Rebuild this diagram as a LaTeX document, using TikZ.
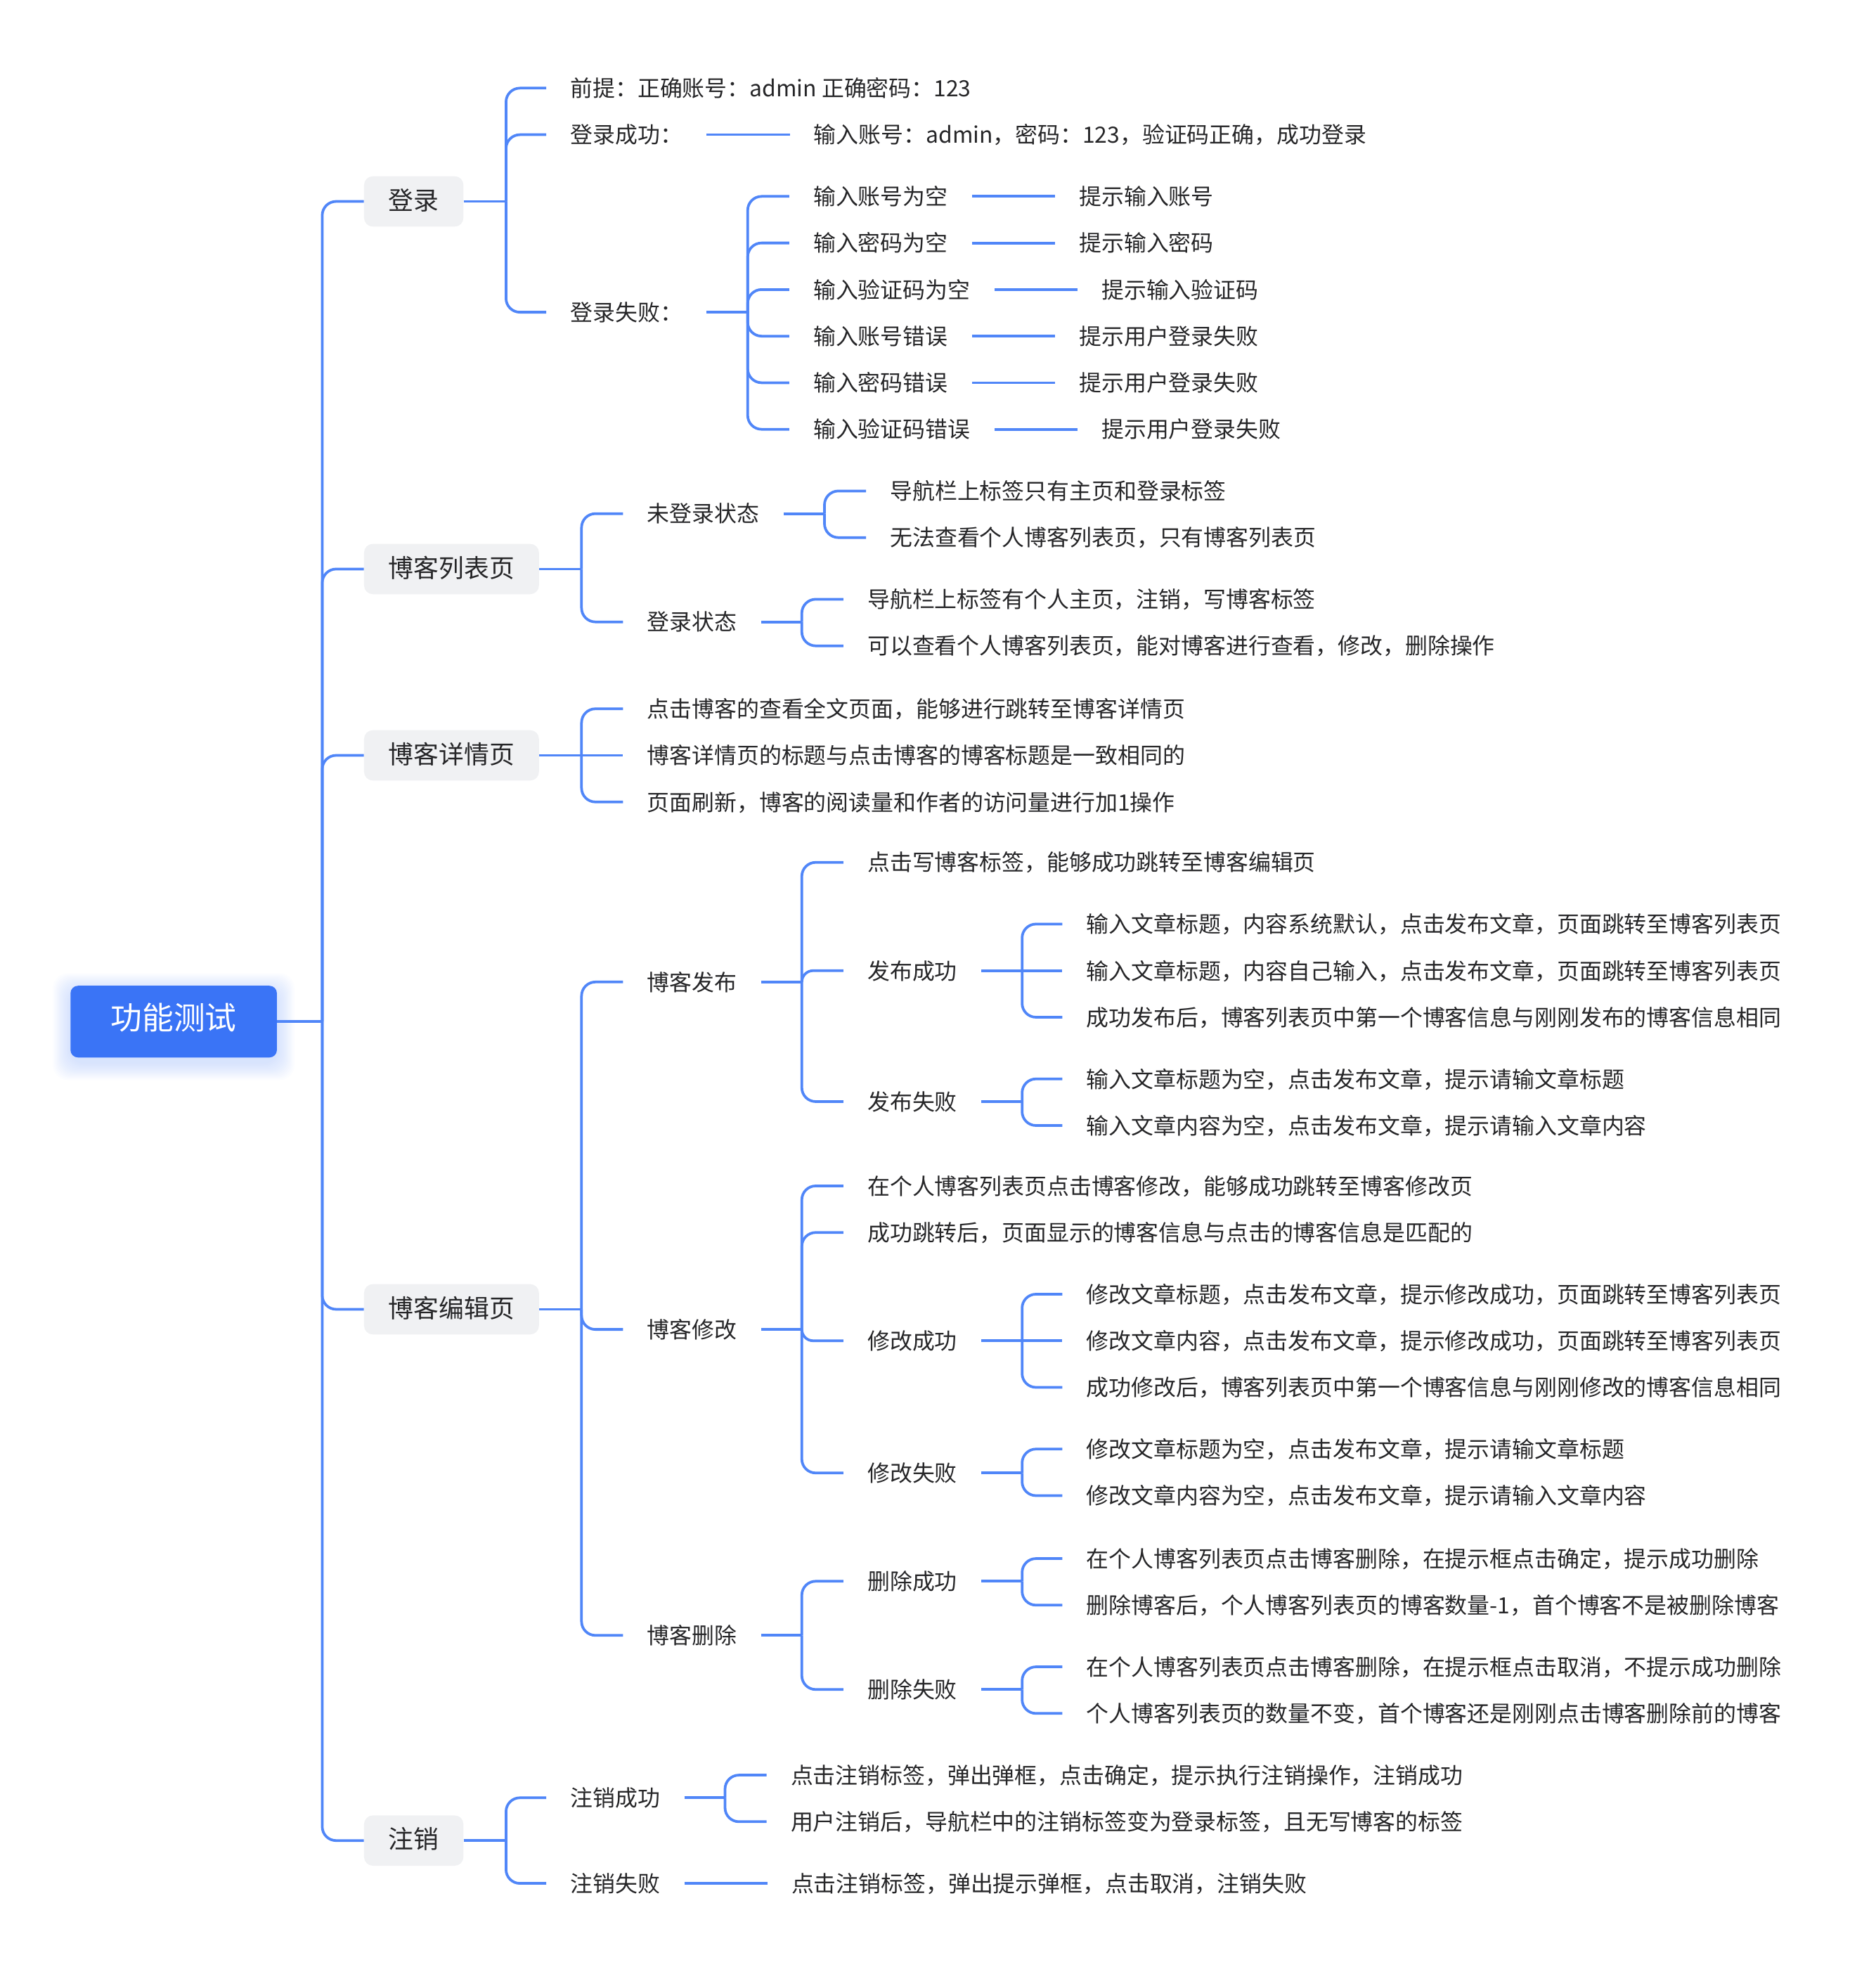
\documentclass[tikz,border=0pt]{standalone}
\usepackage{fontspec}
\setmainfont{Noto Sans CJK SC}
\usetikzlibrary{calc}
\definecolor{lineblue}{RGB}{80,134,248}
\definecolor{rootblue}{RGB}{58,116,246}
\definecolor{boxgray}{RGB}{240,241,243}
\definecolor{txtgray}{RGB}{38,38,40}
\newcommand\lnk[2]{\draw[conn] let \p1=(#1), \p2=(#2.west), \n1={min(11pt,abs(\y2-\y1))} in [rounded corners=\n1] (\p1) |- (\p2);}
\begin{document}
\begin{tikzpicture}[x=1pt,y=-1pt,
  conn/.style={draw=lineblue,line width=2.1pt},
  rootbox/.style={fill=rootblue,text=white,rounded corners=6pt,minimum width=164pt,minimum height=57pt,inner sep=0pt,font=\fontsize{25}{29}\selectfont,text height=1.3em,text depth=0.06em},
  lvl/.style={fill=boxgray,text=txtgray,rounded corners=7pt,anchor=west,inner xsep=19.5pt,inner ysep=0pt,minimum height=40pt,font=\fontsize{20}{24}\selectfont,text height=1.36em,text depth=0.06em},
  txt/.style={anchor=west,text=txtgray,inner xsep=19pt,inner ysep=0pt,font=\fontsize{17.8}{22}\selectfont,text height=1.42em,text depth=0.05em},
]
\useasboundingbox (0,0) rectangle (1490,1568);
% glow of root
\foreach \i in {1,...,14}{
  \fill[rootblue,opacity=0.014,rounded corners=12pt] (56-\i,783-\i+4) rectangle (220+\i,840+\i+4);
}
\node[rootbox] (root) at (138,811.5) {功能测试};
\coordinate (j0) at (256,811.5);
\draw[conn] (root.east) -- (j0);

% level 1
\node[lvl] (login) at (289,160) {登录};
\node[lvl] (list) at (289,452) {博客列表页};
\node[lvl] (detail) at (289,600) {博客详情页};
\node[lvl] (edit) at (289,1040) {博客编辑页};
\node[lvl] (logout) at (289,1462) {注销};
\foreach \q in {login,list,detail,edit,logout}{\lnk{j0}{\q}}

% ---- 登录
\coordinate (j1) at (402,160);
\draw[conn] (login.east) -- (j1);
\node[txt] (pre) at (434,70) {前提：正确账号：admin 正确密码：123};
\node[txt] (lsucc) at (434,107) {登录成功：};
\node[txt] (lfail) at (434,248) {登录失败：};
\foreach \q in {pre,lsucc,lfail}{\lnk{j1}{\q}}
\node[txt] (lsuccA) at ([xshift=66pt]lsucc.east) {输入账号：admin，密码：123，验证码正确，成功登录};
\draw[conn] (lsucc.east) -- (lsuccA.west);
\coordinate (jf) at (594,248);
\draw[conn] (lfail.east) -- (jf);
\node[txt] (f1) at (627,156) {输入账号为空};
\node[txt] (f2) at (627,193) {输入密码为空};
\node[txt] (f3) at (627,230) {输入验证码为空};
\node[txt] (f4) at (627,267) {输入账号错误};
\node[txt] (f5) at (627,304) {输入密码错误};
\node[txt] (f6) at (627,341) {输入验证码错误};
\foreach \q in {f1,f2,f3,f4,f5,f6}{\lnk{jf}{\q}}
\node[txt] (f1r) at ([xshift=66pt]f1.east) {提示输入账号};
\node[txt] (f2r) at ([xshift=66pt]f2.east) {提示输入密码};
\node[txt] (f3r) at ([xshift=66pt]f3.east) {提示输入验证码};
\node[txt] (f4r) at ([xshift=66pt]f4.east) {提示用户登录失败};
\node[txt] (f5r) at ([xshift=66pt]f5.east) {提示用户登录失败};
\node[txt] (f6r) at ([xshift=66pt]f6.east) {提示用户登录失败};
\draw[conn] (f1.east) -- (f1r.west);
\draw[conn] (f2.east) -- (f2r.west);
\draw[conn] (f3.east) -- (f3r.west);
\draw[conn] (f4.east) -- (f4r.west);
\draw[conn] (f5.east) -- (f5r.west);
\draw[conn] (f6.east) -- (f6r.west);

% ---- 博客列表页
\coordinate (j2) at (462,452);
\draw[conn] (list.east) -- (j2);
\node[txt] (nl) at (495,408) {未登录状态};
\node[txt] (yl) at (495,494) {登录状态};
\lnk{j2}{nl}\lnk{j2}{yl}
\coordinate (jnl) at (655,408);
\draw[conn] (nl.east) -- (jnl);
\node[txt] (nl1) at (688,390) {导航栏上标签只有主页和登录标签};
\node[txt] (nl2) at (688,427) {无法查看个人博客列表页，只有博客列表页};
\lnk{jnl}{nl1}\lnk{jnl}{nl2}
\coordinate (jyl) at (637,494);
\draw[conn] (yl.east) -- (jyl);
\node[txt] (yl1) at (670,476) {导航栏上标签有个人主页，注销，写博客标签};
\node[txt] (yl2) at (670,513) {可以查看个人博客列表页，能对博客进行查看，修改，删除操作};
\lnk{jyl}{yl1}\lnk{jyl}{yl2}

% ---- 博客详情页
\coordinate (j3) at (462,600);
\draw[conn] (detail.east) -- (j3);
\node[txt] (d1) at (495,563) {点击博客的查看全文页面，能够进行跳转至博客详情页};
\node[txt] (d2) at (495,600) {博客详情页的标题与点击博客的博客标题是一致相同的};
\node[txt] (d3) at (495,637) {页面刷新，博客的阅读量和作者的访问量进行加1操作};
\lnk{j3}{d1}\lnk{j3}{d2}\lnk{j3}{d3}

% ---- 博客编辑页
\coordinate (j4) at (462,1040);
\draw[conn] (edit.east) -- (j4);
\node[txt] (pub) at (495,780) {博客发布};
\node[txt] (mod) at (495,1056) {博客修改};
\node[txt] (del) at (495,1299) {博客删除};
\lnk{j4}{pub}\lnk{j4}{mod}\lnk{j4}{del}
% 博客发布
\coordinate (jpub) at (637,780);
\draw[conn] (pub.east) -- (jpub);
\node[txt] (pub1) at (670,685) {点击写博客标签，能够成功跳转至博客编辑页};
\node[txt] (pubok) at (670,771) {发布成功};
\node[txt] (pubng) at (670,875) {发布失败};
\lnk{jpub}{pub1}\lnk{jpub}{pubok}\lnk{jpub}{pubng}
\coordinate (jpo) at (812,771);
\draw[conn] (pubok.east) -- (jpo);
\node[txt] (po1) at (844,734) {输入文章标题，内容系统默认，点击发布文章，页面跳转至博客列表页};
\node[txt] (po2) at (844,771) {输入文章标题，内容自己输入，点击发布文章，页面跳转至博客列表页};
\node[txt] (po3) at (844,808) {成功发布后，博客列表页中第一个博客信息与刚刚发布的博客信息相同};
\lnk{jpo}{po1}\lnk{jpo}{po2}\lnk{jpo}{po3}
\coordinate (jpn) at (812,875);
\draw[conn] (pubng.east) -- (jpn);
\node[txt] (pn1) at (844,857) {输入文章标题为空，点击发布文章，提示请输文章标题};
\node[txt] (pn2) at (844,894) {输入文章内容为空，点击发布文章，提示请输入文章内容};
\lnk{jpn}{pn1}\lnk{jpn}{pn2}
% 博客修改
\coordinate (jmod) at (637,1056);
\draw[conn] (mod.east) -- (jmod);
\node[txt] (mod1) at (670,942) {在个人博客列表页点击博客修改，能够成功跳转至博客修改页};
\node[txt] (mod2) at (670,979) {成功跳转后，页面显示的博客信息与点击的博客信息是匹配的};
\node[txt] (modok) at (670,1065) {修改成功};
\node[txt] (modng) at (670,1170) {修改失败};
\lnk{jmod}{mod1}\lnk{jmod}{mod2}\lnk{jmod}{modok}\lnk{jmod}{modng}
\coordinate (jmo) at (812,1065);
\draw[conn] (modok.east) -- (jmo);
\node[txt] (mo1) at (844,1028) {修改文章标题，点击发布文章，提示修改成功，页面跳转至博客列表页};
\node[txt] (mo2) at (844,1065) {修改文章内容，点击发布文章，提示修改成功，页面跳转至博客列表页};
\node[txt] (mo3) at (844,1102) {成功修改后，博客列表页中第一个博客信息与刚刚修改的博客信息相同};
\lnk{jmo}{mo1}\lnk{jmo}{mo2}\lnk{jmo}{mo3}
\coordinate (jmn) at (812,1170);
\draw[conn] (modng.east) -- (jmn);
\node[txt] (mn1) at (844,1151) {修改文章标题为空，点击发布文章，提示请输文章标题};
\node[txt] (mn2) at (844,1188) {修改文章内容为空，点击发布文章，提示请输入文章内容};
\lnk{jmn}{mn1}\lnk{jmn}{mn2}
% 博客删除
\coordinate (jdel) at (637,1299);
\draw[conn] (del.east) -- (jdel);
\node[txt] (delok) at (670,1256) {删除成功};
\node[txt] (delng) at (670,1342) {删除失败};
\lnk{jdel}{delok}\lnk{jdel}{delng}
\coordinate (jdo) at (812,1256);
\draw[conn] (delok.east) -- (jdo);
\node[txt] (do1) at (844,1238) {在个人博客列表页点击博客删除，在提示框点击确定，提示成功删除};
\node[txt] (do2) at (844,1275) {删除博客后，个人博客列表页的博客数量-1，首个博客不是被删除博客};
\lnk{jdo}{do1}\lnk{jdo}{do2}
\coordinate (jdn) at (812,1342);
\draw[conn] (delng.east) -- (jdn);
\node[txt] (dn1) at (844,1324) {在个人博客列表页点击博客删除，在提示框点击取消，不提示成功删除};
\node[txt] (dn2) at (844,1361) {个人博客列表页的数量不变，首个博客还是刚刚点击博客删除前的博客};
\lnk{jdn}{dn1}\lnk{jdn}{dn2}

% ---- 注销
\coordinate (j5) at (402,1462);
\draw[conn] (logout.east) -- (j5);
\node[txt] (lo1) at (434,1428) {注销成功};
\node[txt] (lo2) at (434,1496) {注销失败};
\lnk{j5}{lo1}\lnk{j5}{lo2}
\coordinate (jlo) at (576,1428);
\draw[conn] (lo1.east) -- (jlo);
\node[txt] (lo11) at (609,1410) {点击注销标签，弹出弹框，点击确定，提示执行注销操作，注销成功};
\node[txt] (lo12) at (609,1447) {用户注销后，导航栏中的注销标签变为登录标签，且无写博客的标签};
\lnk{jlo}{lo11}\lnk{jlo}{lo12}
\node[txt] (lo21) at ([xshift=66pt]lo2.east) {点击注销标签，弹出提示弹框，点击取消，注销失败};
\draw[conn] (lo2.east) -- (lo21.west);
\end{tikzpicture}
\end{document}
